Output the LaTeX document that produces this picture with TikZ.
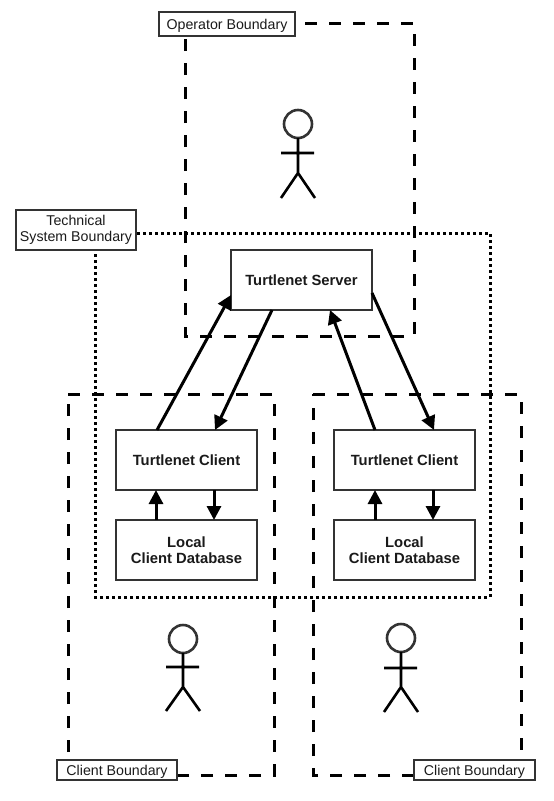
\documentclass[tikz,border=0pt]{standalone}
\usepackage{fontspec}
\setmainfont{Liberation Sans}
\usetikzlibrary{arrows.meta}
\definecolor{ink}{HTML}{1A1A1A}
\definecolor{edge}{HTML}{333333}
\tikzset{
  x=1pt,y=-1pt,
  dashbound/.style={draw=black,line width=3pt,dash pattern=on 12pt off 12pt},
  dotbound/.style={draw=black,line width=3pt,dash pattern=on 3pt off 3pt},
  region/.style={rectangle,minimum width=#1,inner sep=0pt,outer sep=0pt,anchor=north west},
  onepad/.style={execute at begin node={\rule[-3pt]{0pt}{16pt}}},
  twopad/.style={execute at begin node={\rule{0pt}{13pt}}},
  tagbox/.style={rectangle,draw=edge,line width=2pt,fill=white,inner sep=0pt,outer sep=0pt,align=center,text=ink,font=\fontsize{14.2}{16.5}\selectfont,anchor=north west},
  sysbox/.style={rectangle,draw=edge,line width=2pt,fill=white,inner sep=0pt,outer sep=0pt,align=center,text=ink,font=\fontsize{14.8}{16.5}\selectfont\bfseries,anchor=north west,minimum width=141pt,minimum height=60pt},
  flow/.style={draw=black,line width=3pt,-{Triangle[length=14pt,width=14pt]},shorten >=0pt},
  limb/.style={draw=black,line width=2.6pt},
  headring/.style={circle,draw=edge,line width=2.6pt,fill=none,minimum size=28pt,inner sep=0pt,outer sep=0pt}
}
\begin{document}
\begin{tikzpicture}
\useasboundingbox (0,0) rectangle (554,801);
% boundaries
\node[region=229pt,minimum height=313pt] (opb) at (185,23) {};
\node[region=395pt,minimum height=364pt] (tsb) at (95,233) {};
\node[region=206pt,minimum height=381pt] (clb) at (68,394) {};
\node[region=208pt,minimum height=381pt] (crb) at (313,394) {};
\draw[dashbound] (opb.north west) -- (opb.north east) -- (opb.south east) -- (opb.south west) -- cycle;
\draw[dotbound] (tsb.north west) -- (tsb.north east) -- (tsb.south east) -- (tsb.south west) -- cycle;
\draw[dashbound] (clb.north west) -- (clb.north east) -- (clb.south east) -- (clb.south west) -- cycle;
\draw[dashbound] (crb.north west) -- (crb.north east) -- (crb.south east) -- (crb.south west) -- cycle;
% labels
\node[tagbox,onepad,minimum width=136pt,minimum height=24pt] (opt) at (159,12) {Operator Boundary};
\node[tagbox,twopad,minimum width=120pt,minimum height=40pt] (tst) at (16,210) {Technical\\System Boundary};
\node[tagbox,onepad,minimum width=120pt,minimum height=20pt] (clt) at (57,760) {Client Boundary};
\node[tagbox,onepad,minimum width=121pt,minimum height=20pt] (crt) at (414,760) {Client Boundary};
% systems
\node[sysbox,onepad] (srv) at (231,250) {Turtlenet Server};
\node[sysbox,onepad] (cl) at (116,430) {Turtlenet Client};
\node[sysbox,twopad] (dl) at (116,520) {Local\\Client Database};
\node[sysbox,onepad] (cr) at (334,430) {Turtlenet Client};
\node[sysbox,twopad] (dr) at (334,520) {Local\\Client Database};
% flows
\draw[flow] ([xshift=41pt]cl.north west) -- ([yshift=15pt]srv.south west);
\draw[flow] ([xshift=41pt]srv.south west) -- ([xshift=99pt]cl.north west);
\draw[flow] ([xshift=41pt]cr.north west) -- ([xshift=99pt]srv.south west);
\draw[flow] ([yshift=17pt]srv.south east) -- ([xshift=100pt]cr.north west);
\draw[flow] ([xshift=40pt]dl.north west) -- ([xshift=40pt]cl.south west);
\draw[flow] ([xshift=98pt]cl.south west) -- ([xshift=98pt]dl.north west);
\draw[flow] ([xshift=41pt]dr.north west) -- ([xshift=41pt]cr.south west);
\draw[flow] ([xshift=99pt]cr.south west) -- ([xshift=99pt]dr.north west);
% actors
\node[headring] (ha) at (298,124) {};
\draw[limb] (ha.south) -- (298,173) coordinate (hipa) (281,153) -- (314,153) (281,198) -- (hipa) -- (315,198);
\node[headring] (hb) at (183,639) {};
\draw[limb] (hb.south) -- (183,687) coordinate (hipb) (166,667) -- (199,667) (166,711) -- (hipb) -- (200,711);
\node[headring] (hc) at (401,638) {};
\draw[limb] (hc.south) -- (401,687) coordinate (hipc) (384,668) -- (417,668) (384,712) -- (hipc) -- (418,712);
\end{tikzpicture}
\end{document}
